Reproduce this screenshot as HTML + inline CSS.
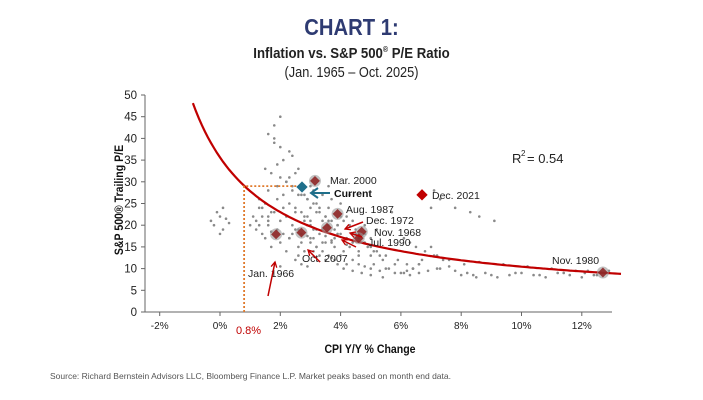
<!DOCTYPE html>
<html><head><meta charset="utf-8">
<style>
body{margin:0;background:#fff;width:703px;height:400px;overflow:hidden;font-family:"Liberation Sans",sans-serif}
.t{position:absolute;left:0;width:703px;text-align:center}
</style></head><body>
<div class="t" style="top:14px;font-size:23px;font-weight:bold;color:#2e3b72;transform:scaleX(0.88)">CHART 1:</div>
<div class="t" style="top:45px;font-size:15px;font-weight:bold;color:#222;transform:scaleX(0.88)">Inflation vs. S&amp;P 500<sup style="font-size:8px">®</sup> P/E Ratio</div>
<div class="t" style="top:64px;font-size:15px;color:#222;transform:scaleX(0.85)">(Jan. 1965 – Oct. 2025)</div>
<svg id="c" width="703" height="400" style="position:absolute;left:0;top:0"></svg>
<div style="position:absolute;left:50px;top:371px;font-size:8.5px;color:#555">Source: Richard Bernstein Advisors LLC, Bloomberg Finance L.P. Market peaks based on month end data.</div>
<script>
const xTicks=[-2,0,2,4,6,8,10,12];
const yTicks=[0,5,10,15,20,25,30,35,40,45,50];
const scatterX=[-0.3,-0.2,0,0.1,0.2,-0.1,0.3,0.1,0,1.6,1.8,2,2.1,1.7,1.9,2.2,1.5,2.4,2,1.8,1.6,2.3,2.6,2.8,2.5,3,3.1,1.2,1.4,1.3,1.5,1.7,1.9,2.1,2.3,2.5,2.7,2.9,3.1,3.3,3.5,3.7,1.1,1.3,1.5,1.7,1.9,2.1,2.3,2.5,2.7,2.9,3.1,3.3,3.5,3.7,3.9,4.1,4.3,4.5,4.8,5,1,1.2,1.4,1.6,1.8,2,2.2,2.4,2.6,2.8,3,3.2,3.4,3.6,3.8,4,4.2,4.4,4.6,4.8,5,5.2,5.5,2.6,2.8,3,3.2,3.4,3.6,3.8,4,4.2,4.4,4.6,4.8,5,5.3,5.6,6,2.5,2.7,2.9,3.1,3.3,3.5,3.7,3.9,4.1,4.4,4.7,5,5.4,5.8,6.2,3,3.4,3.8,4.2,4.6,5,5.4,5.8,3.2,3.6,4,4.4,4.8,5.2,6.1,6.3,6.5,6.8,7,7.2,6.4,6.6,6.9,7.3,7.6,8,8.2,8.4,8.8,9.2,9.6,10,10.4,10.8,11.2,11.6,12,12.4,12.8,6.2,6.6,7.4,8.6,9.4,10.2,11,11.8,12.2,12.6,7,7.8,8.3,8.6,9.1,7.3,7.1,6.8,2.4,2.2,4.3,3.6,5.7,
1.9,2.0,2.2,2.4,2.6,2.9,3.2,3.4,3.7,1.4,1.6,2.1,2.5,2.8,3.0,3.3,3.6,3.9,4.2,4.5,2.0,2.3,2.7,3.1,3.5,3.9,4.3,4.7,5.1,1.7,2.4,2.9,3.4,3.8,4.4,4.9,5.3,5.9,6.4,2.2,2.6,3.2,3.7,4.1,4.6,5.1,5.5,6.1,6.6,7.2,7.8,8.5,9.0,9.8,10.6,11.4,12.1,12.5,12.9,6.3,6.7,7.1,7.6,8.1,2.0,2.3,1.8,2.7,3.0,3.5,4.0,1.6,1.3,2.9];
const scatterY=[21,20,22,19,21.5,23,20.5,24,18,41,43,38,35,32,34,30,33,36,45,40,28,31,33,27,32,29,28,19,18,20,17,18.5,19,18,17,19,18,17.5,19,18,17.5,16.5,22,24,25,23,26,27,25,24,23,26,25,24,22,21,20,21,20,19,18,17,20,21,22,20,23,21,22,20,19,21,20,19,21,20,19,18,17,18,17,16,15,14,13,15,14,16,15,14,13,12,13,11,12,11,10.5,10,9.5,10,9,12,11,10.5,14,13,12,12.5,11,10,9.5,9,8.5,8,9,9.5,17,16,15,15.5,14,13,12,11,23,24,22,21,20,19,17,16,15,14,15,13,10,9,9.5,10,10.5,8.5,9,8.5,9,8,8.5,9,8.5,8,9,8.5,8,8.5,9,11,11,12,11.5,11,10.5,10,9.5,9.5,9,24,24,23,22,21,26,28,27,28,30,27,29,23,
29,31,30,29,27,26,25,27,26,24,22,24,23,22,24,23,21,20,22,18,16,17,16,17,16,18,15,16,14,15,18,20,19,17,16,15,13,12,10,14,13,15,16,14,13,11,10,9,11,10,9.5,8,8.5,9,8.5,9,9,8.5,9.5,8.5,12,13,12,11,10.5,37,39,27,21,22,25,21,26,22,16];
const curveA=111.1,curveB=3.314,curveC=2.1;
const markers=[
 {n:"mar-2000",x:3.15,y:30.2,lab:"Mar. 2000",lx:330,ly:184},
 {n:"aug-1987",x:3.9,y:22.6,lab:"Aug. 1987",lx:346,ly:213},
 {n:"dec-1972",x:3.55,y:19.4,lab:"Dec. 1972",lx:366,ly:224},
 {n:"nov-1968",x:4.7,y:18.5,lab:"Nov. 1968",lx:374,ly:236},
 {n:"jul-1990",x:4.6,y:17,lab:"Jul. 1990",lx:368,ly:246},
 {n:"oct-2007",x:2.7,y:18.3,lab:"Oct. 2007",lx:302,ly:262},
 {n:"jan-1966",x:1.86,y:17.9,lab:"Jan. 1966",lx:248,ly:277},
 {n:"nov-1980",x:12.7,y:9.1,lab:"Nov. 1980",lx:552,ly:264}
];
const X=v=>220+30.15*v, Y=v=>312-4.34*v;
const s=document.getElementById('c');const NS="http://www.w3.org/2000/svg";
function mk(t,a,txt){const e=document.createElementNS(NS,t);for(const k in a)e.setAttribute(k,a[k]);if(txt!==undefined)e.textContent=txt;s.appendChild(e);return e;}
let e;
e=mk('line',{x1:145,y1:95,x2:145,y2:312,stroke:'#666'});


e=mk('line',{x1:145,y1:312,x2:612,y2:312,stroke:'#666'});


yTicks.forEach(v=>{mk('line',{x1:141,y1:Y(v),x2:145,y2:Y(v),stroke:'#666'});
 e=mk('text',{x:137,y:Y(v)+4,'text-anchor':'end','font-size':11.5,fill:'#222'},v);
 
 });
xTicks.forEach(v=>{mk('line',{x1:X(v),y1:312,x2:X(v),y2:316,stroke:'#666'});
 e=mk('text',{x:X(v),y:329,'text-anchor':'middle','font-size':10,fill:'#222'},v+'%');
 
 });
e=mk('text',{x:0,y:0,transform:'translate(123,200) rotate(-90) scale(0.88,1)','text-anchor':'middle','font-size':12,'font-weight':'bold',fill:'#111'},'S&P 500® Trailing P/E');


e=mk('text',{x:0,y:0,transform:'translate(370,353) scale(0.88,1)','text-anchor':'middle','font-size':12,'font-weight':'bold',fill:'#111'},'CPI Y/Y % Change');


scatterX.forEach((v,i)=>{e=mk('circle',{cx:X(v),cy:Y(scatterY[i]),r:1.3,fill:'#8a8a8a'});
 
 });
let d='';for(let v=-1;v<=13.3;v+=0.1){const y=curveC+curveA/(v+curveB);if(y>50)continue;d+=(d?'L':'M')+X(v).toFixed(1)+','+Y(y).toFixed(1);}
e=mk('path',{d:d,fill:'none',stroke:'#c00000','stroke-width':2.2});


const cx=2.72,cy=28.8;
e=mk('path',{d:`M${X(0.8)},312V${Y(29)}H${X(cx)}`,fill:'none',stroke:'#e07a2c','stroke-width':1.8,'stroke-dasharray':'2,2'});


e=mk('text',{x:236,y:334,'font-size':11,fill:'#c00000'},'0.8%');


markers.forEach(m=>{const px=X(m.x),py=Y(m.y);
 mk('circle',{cx:px,cy:py,r:6,fill:'#999',opacity:0.6});
 e=mk('rect',{x:px-3.5,y:py-3.5,width:7,height:7,fill:'#8c1d1d',transform:`rotate(45 ${px} ${py})`,opacity:0.85});
 
 
 e=mk('text',{x:m.lx,y:m.ly,'font-size':10.5,fill:'#222'},m.lab);
 
 });
e=mk('rect',{x:X(cx)-4,y:Y(cy)-4,width:8,height:8,fill:'#1f6f8b',transform:`rotate(45 ${X(cx)} ${Y(cy)})`});


e=mk('text',{x:334,y:197,'font-size':10.5,'font-weight':'bold',fill:'#111'},'Current');


mk('path',{d:`M330,193H312M318,188L311,193L318,198`,stroke:'#1f6f8b','stroke-width':2,fill:'none'});
const dx=X(6.7),dy=Y(27);
e=mk('rect',{x:dx-4,y:dy-4,width:8,height:8,fill:'#c00000',transform:`rotate(45 ${dx} ${dy})`});


e=mk('text',{x:432,y:199,'font-size':10.5,fill:'#222'},'Dec. 2021');


[[363,222,345,229],[362,237,350,233],[356,247,342,240],[320,262,308,250],[268,296,275,262]].forEach(a=>{
 mk('line',{x1:a[0],y1:a[1],x2:a[2],y2:a[3],stroke:'#c00000','stroke-width':1.5});
 const ang=Math.atan2(a[3]-a[1],a[2]-a[0]);
 const h=(o)=>[a[2]-6*Math.cos(ang+o),a[3]-6*Math.sin(ang+o)];
 const p1=h(0.5),p2=h(-0.5);
 mk('path',{d:`M${p1[0]},${p1[1]}L${a[2]},${a[3]}L${p2[0]},${p2[1]}`,stroke:'#c00000','stroke-width':1.3,fill:'none'});});
e=mk('text',{x:512,y:163,'font-size':13,fill:'#222'},'R');


mk('text',{x:521,y:156,'font-size':8,fill:'#222'},'2');
mk('text',{x:527,y:163,'font-size':13,fill:'#222'},'= 0.54');
</script>
</body></html>
